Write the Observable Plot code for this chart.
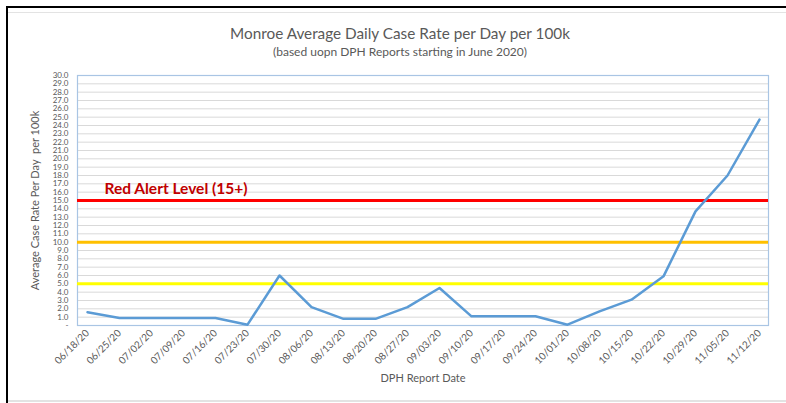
<!DOCTYPE html>
<html>
<head>
<meta charset="utf-8">
<script src="https://cdn.jsdelivr.net/npm/d3@7"></script>
<script src="https://cdn.jsdelivr.net/npm/@observablehq/plot@0.6"></script>
<style>
  html, body { margin: 0; padding: 0; background: #fff; }
  #wrap { position: relative; width: 786px; height: 403px; overflow: hidden; font-family: Lato, "Open Sans", sans-serif; }
  #wrap svg { position: absolute; left: 0; top: 0; }
  .title { position: absolute; left: 0; width: 800px; text-align: center; color: #595959; white-space: nowrap; }
  .edge { position: absolute; }
</style>
</head>
<body>
<div id="wrap">
  <div class="edge" style="left:6px;top:6px;width:780px;height:2px;background:#000"></div>
  <div class="edge" style="left:6px;top:6px;width:2px;height:397px;background:#000"></div>
  <div class="edge" style="left:8px;top:12px;width:778px;height:1px;background:#e3e3e3"></div>
  <div class="edge" style="left:8px;top:400px;width:778px;height:2px;background:#e3e3e3"></div>
  <div class="title" id="t1" style="top:24px;font-size:15.3px;"></div>
  <div class="title" id="t2" style="top:44px;font-size:12px;"></div>
</div>
<script>
const titleText = "Monroe Average Daily Case Rate per Day per 100k";
const subtitleText = "(based uopn DPH Reports starting in June 2020)";
const dates = ["06/18/20","06/25/20","07/02/20","07/09/20","07/16/20","07/23/20","07/30/20","08/06/20","08/13/20","08/20/20","08/27/20","09/03/20","09/10/20","09/17/20","09/24/20","10/01/20","10/08/20","10/15/20","10/22/20","10/29/20","11/05/20","11/12/20"];
const rates = [1.6,0.9,0.9,0.9,0.9,0.1,6.0,2.2,0.8,0.8,2.2,4.5,1.1,1.1,1.1,0.1,1.7,3.1,5.9,13.7,18.0,24.7];
const yTicks = d3.range(0, 31);
const alertLevels = [15, 10, 5];
const alertColors = ["#ff0000", "#ffc000", "#ffff00"];
const alertLabel = "Red Alert Level (15+)";
const xLabel = "DPH Report Date";
const yLabel = "Average Case Rate Per Day  per 100k";

document.getElementById("t1").textContent = titleText;
document.getElementById("t2").textContent = subtitleText;

const data = dates.map((d, i) => ({date: d, rate: rates[i]}));
const alerts = alertLevels.map((v, i) => ({level: v, color: alertColors[i]}));

const chart = Plot.plot({
  width: 786,
  height: 403,
  marginLeft: 77,
  marginRight: 18,
  marginTop: 75,
  marginBottom: 78,
  style: {fontFamily: "Lato, 'Open Sans', sans-serif", color: "#595959", background: "transparent"},
  x: {type: "point", domain: dates, padding: 0},
  y: {domain: [0, 30]},
  marks: [
    Plot.ruleY(yTicks.filter(d => d > 0), {stroke: "#d9d9d9", strokeWidth: 1}),
    Plot.frame({stroke: "#a9c5e4", strokeWidth: 1.2}),
    Plot.ruleY(alerts, {y: "level", stroke: "color", strokeWidth: 3}),
    Plot.text([alertLabel], {frameAnchor: "left", y: alertLevels[0], dx: 27, dy: -11, textAnchor: "start", text: d => d, fill: "#c00000", fontWeight: "bold", fontSize: 15.5}),
    Plot.line(data, {x: "date", y: "rate", stroke: "#5b9bd5", strokeWidth: 2.5, strokeLinejoin: "round"}),
    Plot.axisY({ticks: yTicks, tickSize: 0, tickPadding: 9, fontSize: 8, tickFormat: d => d === 0 ? "-" : d.toFixed(1), label: null}),
    Plot.text([yLabel], {frameAnchor: "left", dx: -42, rotate: -90, textAnchor: "middle", lineAnchor: "middle", text: d => d, fill: "#595959", fontSize: 11}),
    Plot.axisX({tickSize: 0, tickPadding: 6, tickRotate: -45, fontSize: 10, label: null}),
    Plot.text([xLabel], {frameAnchor: "bottom", dy: 56, text: d => d, fill: "#595959", fontSize: 11})
  ]
});
document.getElementById("wrap").appendChild(chart);
</script>
</body>
</html>
